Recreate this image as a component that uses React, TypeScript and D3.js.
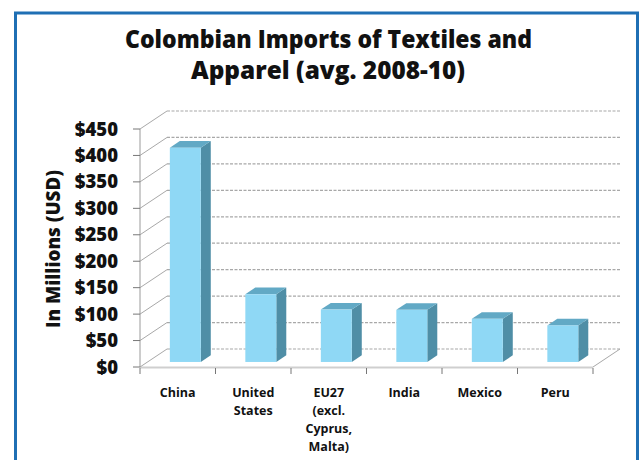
import React from "react";
import * as d3 from "d3";

const categories: string[][] = [
  ["China"],
  ["United", "States"],
  ["EU27", "(excl.", "Cyprus,", "Malta)"],
  ["India"],
  ["Mexico"],
  ["Peru"],
];
const values: number[] = [405, 128, 99, 98.5, 81.5, 69];
const yTicks: number[] = [0, 50, 100, 150, 200, 250, 300, 350, 400, 450];
const titleLines: string[] = ["Colombian Imports of Textiles and", "Apparel (avg. 2008-10)"];
const yAxisTitle = "In Millions (USD)";

const W = 642;
const H = 460;
const FONT = "'Open Sans', 'DejaVu Sans', sans-serif";

export default function App() {
  const x = d3
    .scaleBand<number>()
    .domain(categories.map((_, i) => i))
    .range([140, 593])
    .paddingInner(0)
    .paddingOuter(0);
  const y = d3.scaleLinear().domain([0, 450]).range([367, 129]);

  // depth offsets
  const DX = 27;
  const DY = -18;
  const bf0 = 0.28; // bar front depth fraction
  const bf1 = 0.65; // bar back depth fraction
  const barW = x.bandwidth() * 0.41;

  const grid = "#a8a8a8";

  const bars = values.map((v, i) => {
    const cx = (x(i) as number) + x.bandwidth() / 2 + DX * bf0;
    const x0 = cx - barW / 2;
    const x1 = cx + barW / 2;
    const yb = y(0) + DY * bf0;
    const yt = y(v) + DY * bf0;
    const ddx = DX * (bf1 - bf0);
    const ddy = DY * (bf1 - bf0);
    return { x0, x1, yb, yt, ddx, ddy, i };
  });

  return (
    <svg
      width={W}
      height={H}
      style={{ position: "absolute", left: 0, top: 0, background: "#fff" }}
      fontFamily={FONT}
    >
      {/* frame */}
      <rect x={0} y={0} width={W} height={H} fill="#fff" />
      <rect x={15.5} y={13} width={622} height={470} fill="none" stroke="#1f6fb4" strokeWidth={3} />

      {/* title */}
      <text x={328.5} y={48} textAnchor="middle" fontSize={25} fontWeight={800} fill="#111"
        textLength={407} lengthAdjust="spacingAndGlyphs">
        {titleLines[0]}
      </text>
      <text x={328} y={79} textAnchor="middle" fontSize={25} fontWeight={800} fill="#111"
        textLength={274} lengthAdjust="spacingAndGlyphs">
        {titleLines[1]}
      </text>

      {/* floor */}
      <line x1={140} y1={y(0) + 0.5} x2={593} y2={y(0) + 0.5} stroke="#cfcfcf" strokeWidth={2} />
      <line x1={593} y1={y(0)} x2={593 + DX} y2={y(0) + DY} stroke={grid} strokeWidth={1} />

      {/* gridlines: side wall and back wall */}
      {yTicks.map((t) => (
        <g key={t}>
          <line x1={140} y1={y(t)} x2={140 + DX} y2={y(t) + DY} stroke={grid} strokeWidth={1} />
          <line x1={140 + DX} y1={y(t) + DY} x2={593 + DX} y2={y(t) + DY} stroke={grid}
            strokeWidth={1.2} strokeDasharray="3 1.5" />
        </g>
      ))}

      {/* y axis */}
      <line x1={140} y1={y(450)} x2={140} y2={y(0)} stroke="#9a9a9a" strokeWidth={1} />
      {yTicks.map((t) => (
        <g key={"yt" + t}>
          <line x1={133} y1={y(t)} x2={140} y2={y(t)} stroke="#777" strokeWidth={1} />
          <text x={118} y={y(t) + 6.5} textAnchor="end" fontSize={18.5} fontWeight={800} fill="#111">
            {"$" + t}
          </text>
        </g>
      ))}

      {/* x ticks */}
      {d3.range(categories.length + 1).map((i) => {
        const xx = i < categories.length ? (x(i) as number) : 593;
        return <line key={"xt" + i} x1={xx} y1={368} x2={xx} y2={374} stroke="#777" strokeWidth={1} />;
      })}

      {/* bars */}
      {bars.map((b) => (
        <g key={"b" + b.i}>
          {/* side */}
          <polygon
            points={`${b.x1},${b.yb} ${b.x1 + b.ddx},${b.yb + b.ddy} ${b.x1 + b.ddx},${b.yt + b.ddy} ${b.x1},${b.yt}`}
            fill="#4f8ea6"
          />
          {/* top */}
          <polygon
            points={`${b.x0},${b.yt} ${b.x1},${b.yt} ${b.x1 + b.ddx},${b.yt + b.ddy} ${b.x0 + b.ddx},${b.yt + b.ddy}`}
            fill="#62a9c5"
          />
          {/* front */}
          <rect x={b.x0} y={b.yt} width={b.x1 - b.x0} height={b.yb - b.yt} fill="#8fd8f5" />
        </g>
      ))}

      {/* x labels */}
      {categories.map((lines, i) => (
        <text key={"xl" + i} textAnchor="middle" fontSize={12.5} fontWeight={700} fill="#111">
          {lines.map((ln, j) => (
            <tspan key={j} x={(x(i) as number) + x.bandwidth() / 2} y={397 + j * 18}>
              {ln}
            </tspan>
          ))}
        </text>
      ))}

      {/* y axis title */}
      <text
        transform={`translate(60,249) rotate(-90)`}
        textAnchor="middle"
        fontSize={20}
        fontWeight={800}
        fill="#111"
        textLength={158}
        lengthAdjust="spacingAndGlyphs"
      >
        {yAxisTitle}
      </text>
    </svg>
  );
}
